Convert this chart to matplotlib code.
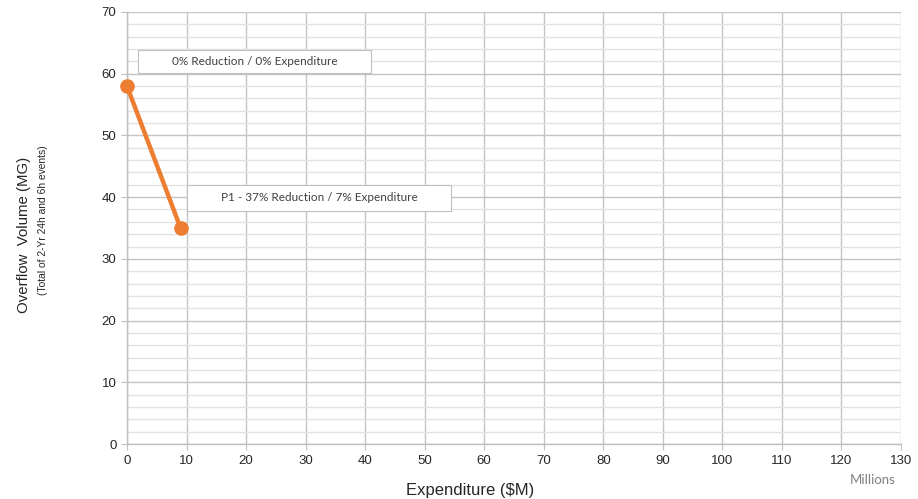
import matplotlib.pyplot as plt
from matplotlib.patches import Rectangle
from matplotlib.ticker import MultipleLocator

# spend (millions) vs overflow volume for each option
expenditure = [0, 9]
overflow = [58, 35]
labels = ["0% Reduction / 0% Expenditure", "P1 - 37% Reduction / 7% Expenditure"]
# label box: (left, bottom, width, height) in data units
label_boxes = [(1.85, 60.1, 39.2, 3.7), (10.1, 37.8, 44.3, 4.2)]

plt.rcParams['font.family'] = ['Liberation Sans', 'DejaVu Sans']

fig = plt.figure(figsize=(9.18, 4.99), dpi=100)
ax = fig.add_axes([0.1383, 0.1102, 0.8432, 0.8658])

ax.set_xlim(0, 130)
ax.set_ylim(0, 70)
ax.xaxis.set_major_locator(MultipleLocator(10))
ax.yaxis.set_major_locator(MultipleLocator(10))
ax.yaxis.set_minor_locator(MultipleLocator(2))

ax.grid(which='major', axis='both', color='#c4c4c4', linewidth=1.0)
ax.grid(which='minor', axis='y', color='#e2e2e2', linewidth=1.0)
ax.set_axisbelow(True)

for side in ['top', 'right']:
    ax.spines[side].set_visible(False)
for side in ['left', 'bottom']:
    ax.spines[side].set_color('#bfbfbf')
    ax.spines[side].set_linewidth(1.0)

ax.tick_params(which='major', color='#bfbfbf', length=4, labelsize=9.5,
               labelcolor='#262626')
ax.tick_params(which='minor', length=0)
ax.tick_params(axis='x', pad=4)

ax.plot(expenditure, overflow, color='#ED7D31', linewidth=3.2,
        marker='o', markersize=9.5, zorder=5, clip_on=False)

for (x0, y0, w, h), txt in zip(label_boxes, labels):
    ax.add_patch(Rectangle((x0, y0), w, h, facecolor='white',
                           edgecolor='#bfbfbf', linewidth=0.8, zorder=4))
    ax.text(x0 + w / 2, y0 + h / 2, txt, ha='center', va='center',
            fontsize=8.5, color='#404040', family=['Lato', 'DejaVu Sans'],
            zorder=6)

fig.text(0.512, 0.018, 'Expenditure ($M)', ha='center', va='center',
         fontsize=12, color='#262626')
fig.text(0.026, 0.529, 'Overflow  Volume (MG)', rotation=90, ha='center',
         va='center', fontsize=10.8, color='#262626')
fig.text(0.047, 0.559, '(Total of 2-Yr 24h and 6h events)', rotation=90,
         ha='center', va='center', fontsize=7.4, color='#262626')
fig.text(0.951, 0.038, 'Millions', ha='center', va='center', fontsize=9.5,
         color='#7f7f7f', family=['Lato', 'DejaVu Sans'])

fig.savefig('out.png', dpi=100)
